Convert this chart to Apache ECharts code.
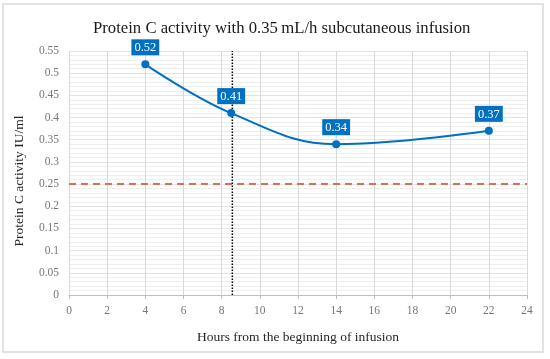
<!DOCTYPE html>
<html><head><meta charset="utf-8">
<script src="https://cdn.jsdelivr.net/npm/echarts@6/dist/echarts.min.js"></script>
<style>html,body{margin:0;padding:0;background:#fff}#c{width:550px;height:359px}</style>
</head><body><div id="c"></div>
<script>
var hours = [4, 8.5, 14, 22];
var activity = [0.52, 0.41, 0.34, 0.37];
var markerHour = 8.56;
var thresholdValue = 0.25;
var xTicks = [0, 24, 2];
var yTicks = [0, 0.55, 0.05];
var titleText = 'Protein C activity with 0.35\u2009mL/h subcutaneous infusion';
var xName = 'Hours from the beginning of infusion';
var yName = 'Protein C activity IU/ml';

var serif = '"Liberation Serif", "DejaVu Serif", serif';
var chart = echarts.init(document.getElementById('c'));
chart.setOption({
  animation: false,
  title: { text: titleText, left: 88, top: 15, textStyle: { fontFamily: serif, fontSize: 16.7, fontWeight: 'normal', color: '#1a1a1a' } },
  graphic: [{ type: 'rect', shape: { x: 3, y: 4, width: 540, height: 348 }, style: { fill: 'none', stroke: '#d9d9d9', lineWidth: 1.5 }, silent: true }],
  grid: { left: 69, right: 23, top: 51, bottom: 64 },
  xAxis: {
    type: 'value', min: xTicks[0], max: xTicks[1], interval: xTicks[2],
    name: xName, nameLocation: 'middle', nameGap: 35,
    nameTextStyle: { fontFamily: serif, fontSize: 13.5, color: '#262626' },
    axisLine: { show: true, lineStyle: { color: '#bfbfbf' } },
    axisTick: { show: true, length: 4, lineStyle: { color: '#bfbfbf' } },
    axisLabel: { fontFamily: serif, fontSize: 11.5, color: '#777777', margin: 10 },
    splitLine: { show: true, lineStyle: { color: '#d9d9d9' } }
  },
  yAxis: {
    type: 'value', min: yTicks[0], max: yTicks[1], interval: yTicks[2],
    name: yName, nameLocation: 'middle', nameGap: 43,
    nameTextStyle: { fontFamily: serif, fontSize: 13.5, color: '#262626', padding: [0, 16, 0, 0] },
    axisLine: { show: false }, axisTick: { show: false },
    axisLabel: { fontFamily: serif, fontSize: 11.5, color: '#777777', margin: 10, formatter: function(v){ return String(+v.toFixed(2)); } },
    splitLine: { show: true, lineStyle: { color: '#e3e3e3' } },
    minorTick: { show: false, splitNumber: 5 },
    minorSplitLine: { show: true, lineStyle: { color: '#eeeeee' } }
  },
  series: [
    { type: 'line', data: [[xTicks[0], thresholdValue], [xTicks[1], thresholdValue]],
      symbol: 'none', lineStyle: { color: '#d9704f', width: 2, type: [7, 5] }, silent: true, z: 2 },
    { type: 'line', data: [[markerHour, yTicks[0]], [markerHour, yTicks[1]]],
      symbol: 'none', lineStyle: { color: '#000', width: 1.5, type: [1.5, 1.5] }, silent: true, z: 2 },
    { type: 'line', data: hours.map(function(h, i){ return [h, activity[i]]; }),
      smooth: 0.4, symbol: 'circle', symbolSize: 8,
      itemStyle: { color: '#0070c0' }, lineStyle: { color: '#0070c0', width: 2 },
      label: { show: true, position: 'top', distance: 5, backgroundColor: '#0070c0', color: '#fff',
        padding: [2, 3, 1, 3], fontFamily: serif, fontSize: 12.5,
        formatter: function(p){ return p.value[1].toFixed(2); } },
      z: 5 }
  ]
});
</script></body></html>
